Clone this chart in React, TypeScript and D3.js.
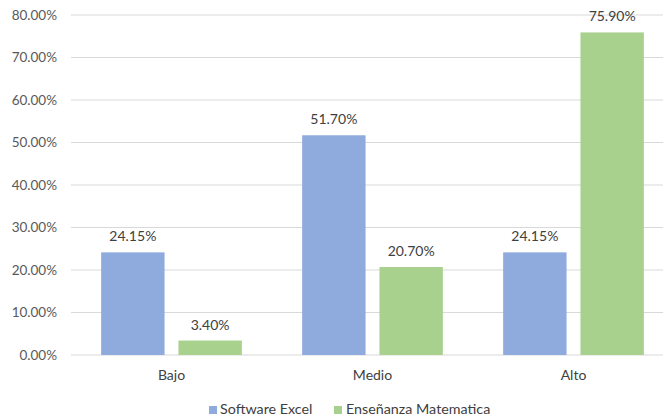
import * as d3 from "d3";

const categories = ["Bajo", "Medio", "Alto"];
const seriesNames = ["Software Excel", "Enseñanza Matematica"];
const softwareExcel = [24.15, 51.7, 24.15];
const ensenanza = [3.4, 20.7, 75.9];
const yTicks = [0, 10, 20, 30, 40, 50, 60, 70, 80];

const colors = ["#8FAADC", "#A9D18E"];
const font = "Lato, 'Open Sans', sans-serif";

const App = () => {
  const width = 663;
  const height = 419;
  const margin = { top: 15, right: -11, bottom: 64, left: 71 };

  const x = d3
    .scaleBand<string>()
    .domain(categories)
    .range([margin.left, width - margin.right])
    .paddingInner(0.3)
    .paddingOuter(0.15);

  const xInner = d3
    .scaleBand<string>()
    .domain(seriesNames)
    .range([0, x.bandwidth()])
    .paddingInner(0.18);

  const y = d3
    .scaleLinear()
    .domain([0, 80])
    .range([height - margin.bottom, margin.top]);

  const series = [softwareExcel, ensenanza];

  return (
    <svg
      width={width}
      height={height}
      style={{ position: "absolute", left: 0, top: 0, background: "#fff" }}
      fontFamily={font}
    >
      {yTicks.map((t) => (
        <g key={t}>
          <line
            x1={margin.left}
            x2={width}
            y1={y(t)}
            y2={y(t)}
            stroke="#D9D9D9"
            strokeWidth={1}
          />
          <text
            x={57}
            y={y(t)}
            dy="0.35em"
            textAnchor="end"
            fontSize={13.5}
            fill="#595959"
          >
            {t.toFixed(2)}%
          </text>
        </g>
      ))}

      {categories.map((c, i) => (
        <g key={c}>
          {series.map((vals, s) => {
            const bx = (x(c) ?? 0) + (xInner(seriesNames[s]) ?? 0);
            const by = y(vals[i]);
            return (
              <g key={s}>
                <rect
                  x={bx}
                  y={by}
                  width={xInner.bandwidth()}
                  height={y(0) - by}
                  fill={colors[s]}
                />
                <text
                  x={bx + xInner.bandwidth() / 2}
                  y={by - 11}
                  textAnchor="middle"
                  fontSize={14}
                  fill="#404040"
                >
                  {vals[i].toFixed(2)}%
                </text>
              </g>
            );
          })}
          <text
            x={(x(c) ?? 0) + x.bandwidth() / 2}
            y={380}
            textAnchor="middle"
            fontSize={14}
            fill="#404040"
          >
            {c}
          </text>
        </g>
      ))}

      <g>
        <rect x={209} y={406} width={8} height={8} fill={colors[0]} />
        <text x={220} y={414} fontSize={14.3} fill="#404040">
          {seriesNames[0]}
        </text>
        <rect x={334} y={406} width={8} height={8} fill={colors[1]} />
        <text x={346} y={414} fontSize={14.3} fill="#404040">
          {seriesNames[1]}
        </text>
      </g>
    </svg>
  );
};

export default App;
